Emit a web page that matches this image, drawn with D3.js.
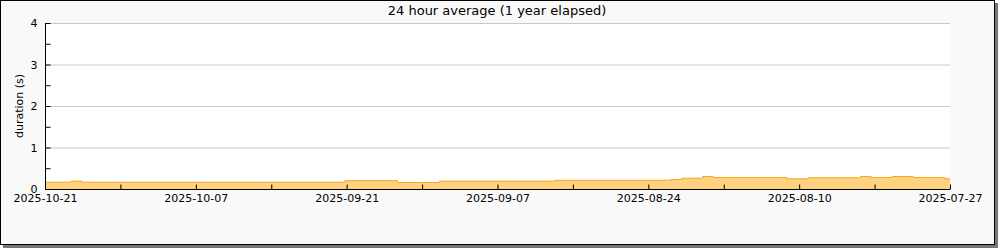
<!DOCTYPE html>
<html>
<head>
<meta charset="utf-8">
<script src="https://cdn.jsdelivr.net/npm/d3@7"></script>
<style>
  body { margin: 0; background: #fff; }
  text { font-family: "DejaVu Sans", sans-serif; fill: #000; }
</style>
</head>
<body>
<svg width="1000" height="250"></svg>
<script>
const svg = d3.select("svg");

// newest day first: 2025-10-21 back to 2025-07-27
const newestDay = "2025-10-21";
const durations = [
    0.164, 0.164, 0.164, 0.19, 0.164, 0.164, 0.164, 0.164, 0.164, 0.164,
    0.164, 0.164, 0.164, 0.164, 0.164, 0.164, 0.164, 0.164, 0.164, 0.164,
    0.164, 0.164, 0.164, 0.164, 0.164, 0.164, 0.164, 0.164, 0.164, 0.2,
    0.2, 0.2, 0.2, 0.2, 0.157, 0.157, 0.157, 0.157, 0.19, 0.19,
    0.19, 0.19, 0.19, 0.19, 0.19, 0.19, 0.19, 0.19, 0.19, 0.21,
    0.21, 0.21, 0.21, 0.21, 0.21, 0.21, 0.21, 0.21, 0.21, 0.21,
    0.23, 0.26, 0.26, 0.3, 0.277, 0.277, 0.277, 0.277, 0.277, 0.277,
    0.277, 0.245, 0.245, 0.27, 0.27, 0.27, 0.27, 0.27, 0.3, 0.277,
    0.277, 0.3, 0.3, 0.277, 0.277, 0.277, 0.245
];
// labels on every second of the 13 evenly spaced x ticks
const xTickLabels = ["2025-10-21", "2025-10-07", "2025-09-21", "2025-09-07", "2025-08-24", "2025-08-10", "2025-07-27"];
const yTicks = [0, 1, 2, 3, 4];

const parse = d3.utcParse("%Y-%m-%d");
const start = parse(newestDay);
const end = d3.utcDay.offset(start, -(durations.length - 1));
const data = durations.map((v, i) => ({ date: d3.utcDay.offset(start, -i), value: v }));

const margin = { top: 23, right: 50, left: 45 };
const width = 1000;
const innerWidth = width - margin.left - margin.right;
const innerHeight = 189 - margin.top;

// frame + shadow
svg.append("rect").attr("x", 3).attr("y", 3).attr("width", 995).attr("height", 245).attr("fill", "#777");
svg.append("rect").attr("x", 0.5).attr("y", 0.5).attr("width", 994).attr("height", 244)
    .attr("fill", "#f9f9f9").attr("stroke", "#000");

const g = svg.append("g").attr("transform", `translate(${margin.left}, ${margin.top})`);

g.append("rect").attr("width", innerWidth).attr("height", innerHeight).attr("fill", "#fff");

const xScale = d3.scaleUtc().domain([start, end]).range([0, innerWidth]);
const yScale = d3.scaleLinear().domain([0, 4]).range([innerHeight, 0]);

// gridlines
g.selectAll(".grid").data(yTicks.slice(1)).enter().append("line")
    .attr("x1", 0).attr("x2", innerWidth)
    .attr("y1", d => yScale(d) + 0.5).attr("y2", d => yScale(d) + 0.5)
    .attr("stroke", "#c8c8c8");

// area
const area = d3.area()
    .curve(d3.curveStep)
    .x(d => xScale(d.date))
    .y0(innerHeight)
    .y1(d => yScale(d.value));
const line = d3.line()
    .curve(d3.curveStep)
    .x(d => xScale(d.date))
    .y(d => yScale(d.value));

g.append("path").datum(data).attr("d", area).attr("fill", "#ffd27f");
g.append("path").datum(data).attr("d", line).attr("fill", "none").attr("stroke", "#f5a623").attr("stroke-width", 1);

// y axis
const yAxis = d3.axisLeft(yScale)
    .ticks(8)
    .tickSize(-5)
    .tickPadding(8)
    .tickFormat(d => Number.isInteger(d) ? d : "");
const yAxisG = g.append("g").attr("transform", "translate(0.5,0)").call(yAxis);
yAxisG.select(".domain").attr("d", `M0,0V${innerHeight}`);
yAxisG.selectAll("text").style("font-size", "11px");

// x axis: 12 equal intervals across the range
const tickTimes = d3.range(13).map(i => xScale.invert(innerWidth * i / 12));
const xAxis = d3.axisBottom(xScale)
    .tickValues(tickTimes)
    .tickSize(-5)
    .tickPadding(5)
    .tickFormat((d, i) => i % 2 === 0 ? xTickLabels[i / 2] : "");
const xAxisG = g.append("g").attr("transform", `translate(0, ${innerHeight + 0.5})`).call(xAxis);
xAxisG.select(".domain").attr("d", `M0,0H${innerWidth}`);
xAxisG.selectAll("text").style("font-size", "11px");
g.selectAll(".domain, .tick line").attr("stroke", "#000");

// title and label
svg.append("text")
    .attr("x", 497).attr("y", 15)
    .attr("text-anchor", "middle")
    .style("font-size", "13px")
    .text("24 hour average (1 year elapsed)");

svg.append("text")
    .attr("transform", "translate(23, 106) rotate(-90)")
    .attr("text-anchor", "middle")
    .style("font-size", "11px")
    .text("duration (s)");
</script>
</body>
</html>
